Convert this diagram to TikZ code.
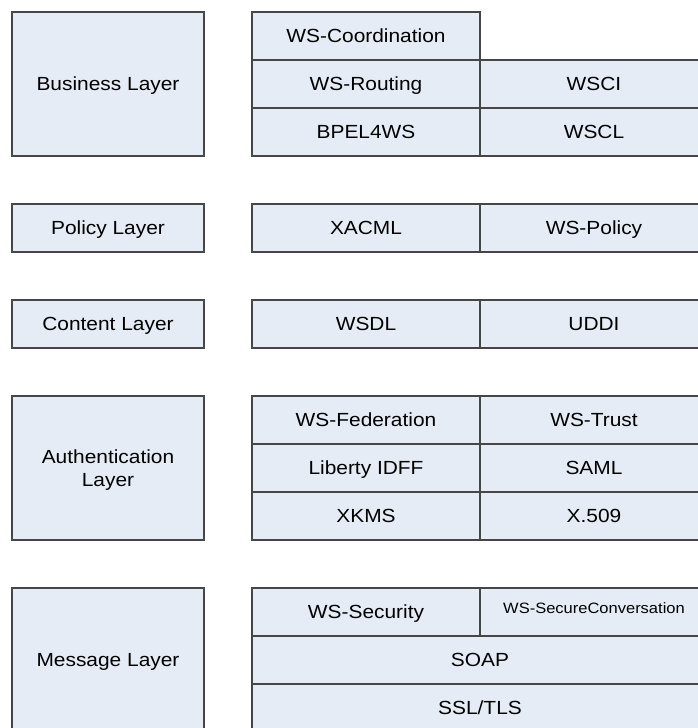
\documentclass[tikz,border=0pt]{standalone}
\usepackage{fontspec}
\setmainfont{Liberation Sans}[FakeStretch=1.1]
\definecolor{cellfill}{RGB}{230,236,246}
\definecolor{celledge}{RGB}{70,70,70}
\tikzset{
  cell/.style={draw=celledge,fill=cellfill,line width=1.3pt,inner sep=0pt,
    minimum height=48pt,text height=13.5pt,text depth=0pt,
    font=\fontsize{19}{23}\selectfont},
  layerbox/.style={cell,minimum width=192pt,align=center},
  halfcell/.style={cell,minimum width=228pt},
  fullcell/.style={cell,minimum width=456pt}
}
\begin{document}
\begin{tikzpicture}[x=1pt,y=-1pt]
\useasboundingbox (0,0) rectangle (698,728);

% business layer
\node[layerbox,minimum height=144pt] (business) at (108,84) {Business Layer};
\node[halfcell] (wscoord) at (366,36) {WS-Coordination};
\node[halfcell] (wsrouting) at (366,84) {WS-Routing};
\node[halfcell] (wsci) at (594,84) {WSCI};
\node[halfcell] (bpel) at (366,132) {BPEL4WS};
\node[halfcell] (wscl) at (594,132) {WSCL};

% policy layer
\node[layerbox] (policy) at (108,228) {Policy Layer};
\node[halfcell] (xacml) at (366,228) {XACML};
\node[halfcell] (wspolicy) at (594,228) {WS-Policy};

% content layer
\node[layerbox] (content) at (108,324) {Content Layer};
\node[halfcell] (wsdl) at (366,324) {WSDL};
\node[halfcell] (uddi) at (594,324) {UDDI};

% authentication layer
\node[layerbox,minimum height=144pt,text height=36.5pt] (auth) at (108,468) {Authentication\\Layer};
\node[halfcell] (wsfed) at (366,420) {WS-Federation};
\node[halfcell] (wstrust) at (594,420) {WS-Trust};
\node[halfcell] (liberty) at (366,468) {Liberty IDFF};
\node[halfcell] (saml) at (594,468) {SAML};
\node[halfcell] (xkms) at (366,516) {XKMS};
\node[halfcell] (xfive) at (594,516) {X.509};

% message layer
\node[layerbox,minimum height=144pt] (message) at (108,660) {Message Layer};
\node[halfcell] (wssec) at (366,612) {WS-Security};
\node[halfcell,font=\fontsize{15}{18}\selectfont,text height=11pt,text depth=8.5pt] (wsconv) at (594,612) {WS-SecureConversation};
\node[fullcell] (soap) at (480,660) {SOAP};
\node[fullcell] (ssl) at (480,708) {SSL/TLS};

\end{tikzpicture}
\end{document}
